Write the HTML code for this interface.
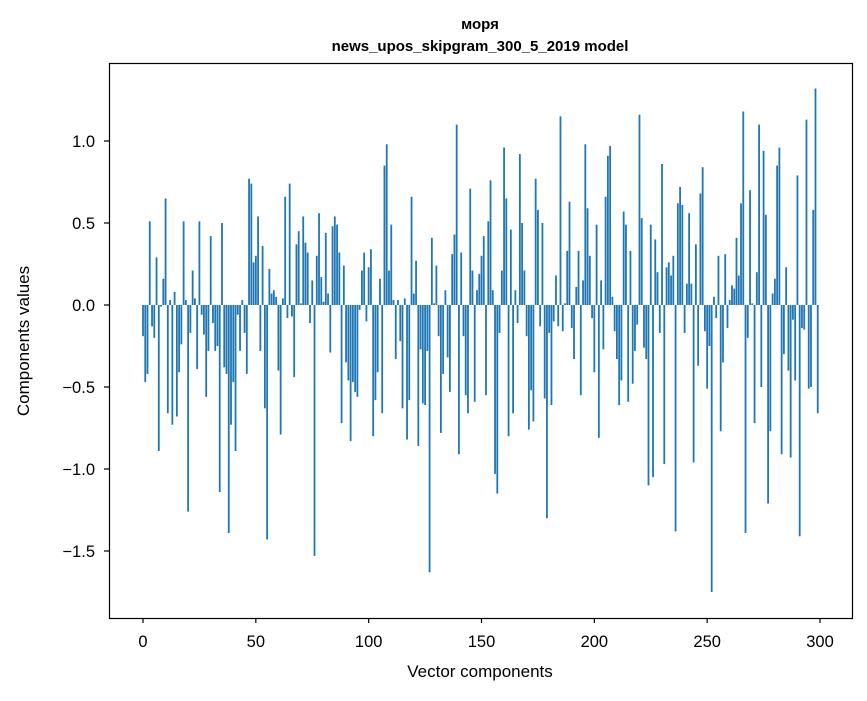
<!DOCTYPE html>
<html><head><meta charset="utf-8"><style>
body{margin:0;background:#fff;}
svg text{font-family:"Liberation Sans","DejaVu Sans",sans-serif;fill:#000;}
</style></head><body>
<svg id="chart" width="867" height="696" xmlns="http://www.w3.org/2000/svg">
<rect width="867" height="696" fill="#fff"/>
<text x="480" y="29" text-anchor="middle" font-size="15" font-weight="bold">моря</text>
<text x="480" y="51" text-anchor="middle" font-size="15" font-weight="bold">news_upos_skipgram_300_5_2019 model</text>
<g id="bars"></g>
<g id="axes"></g>
<rect x="109.5" y="63.5" width="743" height="555" fill="none" stroke="#000" stroke-width="1.2"/>
<text x="480" y="677" text-anchor="middle" font-size="17">Vector components</text>
<text x="29" y="341" text-anchor="middle" font-size="17" transform="rotate(-90 29 341)">Components values</text>
</svg>
<script>
const values = [
-0.19,-0.47,-0.42,0.51,-0.13,-0.20,0.29,-0.89,-0.01,0.16,
0.65,-0.66,0.03,-0.73,0.08,-0.68,-0.41,-0.24,0.51,0.03,
-1.26,-0.17,0.21,0.04,-0.39,0.51,-0.06,-0.18,-0.56,-0.28,
0.42,-0.11,-0.28,-0.25,-1.14,0.50,-0.38,-0.42,-1.39,-0.73,
-0.47,-0.89,-0.06,-0.28,0.03,-0.17,-0.42,0.77,0.74,0.26,
0.30,0.54,-0.28,0.36,-0.63,-1.43,0.22,0.07,0.09,0.05,
-0.40,-0.79,0.04,0.66,-0.08,0.74,-0.07,-0.44,0.37,0.45,
0.01,0.54,0.38,0.32,-0.11,0.15,-1.53,0.30,0.56,0.17,
0.02,0.44,0.07,-0.29,0.48,0.54,0.49,0.32,-0.72,0.24,
-0.35,-0.46,-0.83,-0.47,-0.53,-0.56,-0.03,0.21,0.32,-0.10,
0.23,0.34,-0.80,-0.58,-0.41,0.16,-0.66,0.85,0.98,0.21,
0.49,0.03,-0.33,0.03,-0.22,-0.63,0.04,-0.82,-0.58,0.66,
0.07,0.27,-0.86,-0.27,-0.60,-0.61,-0.28,-1.63,0.41,0.01,
0.24,-0.19,-0.78,-0.42,0.09,-0.32,-0.53,0.31,0.43,1.10,
-0.91,0.32,-0.19,-0.55,-0.66,0.71,0.21,-0.59,0.09,0.19,
0.30,0.42,-0.55,0.51,0.76,0.09,-1.03,-1.15,-0.17,0.21,
0.96,0.65,-0.80,0.46,-0.66,0.09,-0.11,0.92,0.50,0.21,
-0.19,-0.76,-0.52,-0.71,0.77,0.58,-0.13,0.50,-0.57,-1.30,
-0.17,-0.61,-0.10,0.18,-0.13,1.15,-0.16,0.01,0.33,0.63,
-0.14,-0.33,0.11,0.33,-0.55,0.15,0.98,0.59,0.30,-0.08,
-0.41,0.49,-0.81,0.15,-0.27,0.66,0.91,0.97,0.05,-0.16,
-0.33,-0.61,-0.46,0.57,0.49,-0.59,0.33,-0.48,-0.28,-0.12,
1.16,0.53,-0.26,-0.33,-1.10,0.49,-1.05,0.40,0.20,-0.17,
0.86,-0.97,0.23,0.26,0.18,0.30,-1.38,0.62,0.72,0.61,
-0.17,0.13,0.56,0.13,-0.96,0.37,-0.37,0.68,0.84,-0.16,
-0.51,-0.25,-1.75,0.05,-0.08,0.30,-0.77,-0.35,0.31,-0.14,
0.03,0.12,0.10,0.41,0.18,0.62,1.18,-1.39,-0.20,0.70,
0.01,-0.72,0.20,1.10,-0.50,0.94,0.55,-1.21,-0.77,0.07,
0.16,0.85,0.96,-0.91,-0.30,0.23,-0.40,-0.93,-0.09,-0.46,
0.79,-1.41,-0.14,-0.15,1.13,-0.51,-0.50,0.58,1.32,-0.66
];
const xTicks = [0,50,100,150,200,250,300];
const yTicks = [-1.5,-1.0,-0.5,0.0,0.5,1.0];
const yTickLabels = ["\u22121.5","\u22121.0","\u22120.5","0.0","0.5","1.0"];

const NS = "http://www.w3.org/2000/svg";
const X0 = 143, XS = (820-143)/300, Y0 = 305, YS = 164;
function xs(v){return X0 + v*XS;}
function ys(v){return Y0 - v*YS;}

const bars = document.getElementById('bars');
values.forEach((v,i)=>{
  const r = document.createElementNS(NS,'rect');
  
  
  const x = xs(i-0.4), w = 0.8*XS;
  const y1 = ys(Math.max(v,0)), y2 = ys(Math.min(v,0));
  r.setAttribute('x', x); r.setAttribute('width', w);
  r.setAttribute('y', y1); r.setAttribute('height', Math.max(y2-y1,0.01));
  r.setAttribute('fill', '#1f77b4');
  bars.appendChild(r);
});

const axes = document.getElementById('axes');
xTicks.forEach(t=>{
  const l = document.createElementNS(NS,'line');
  
  
  l.setAttribute('x1', xs(t)); l.setAttribute('x2', xs(t));
  l.setAttribute('y1', 618); l.setAttribute('y2', 623);
  l.setAttribute('stroke', '#000'); l.setAttribute('stroke-width','1.2');
  axes.appendChild(l);
  const tx = document.createElementNS(NS,'text');
  
  
  tx.setAttribute('x', xs(t)); tx.setAttribute('y', 647);
  tx.setAttribute('text-anchor','middle'); tx.setAttribute('font-size','16.5');
  tx.textContent = t;
  axes.appendChild(tx);
});
yTicks.forEach((t,i)=>{
  const l = document.createElementNS(NS,'line');
  
  
  l.setAttribute('x1', 104); l.setAttribute('x2', 109);
  l.setAttribute('y1', ys(t)); l.setAttribute('y2', ys(t));
  l.setAttribute('stroke', '#000'); l.setAttribute('stroke-width','1.2');
  axes.appendChild(l);
  const tx = document.createElementNS(NS,'text');
  
  
  tx.setAttribute('x', 95); tx.setAttribute('y', ys(t)+6);
  tx.setAttribute('text-anchor','end'); tx.setAttribute('font-size','16.5');
  tx.textContent = yTickLabels[i];
  axes.appendChild(tx);
});
</script>
</body></html>
